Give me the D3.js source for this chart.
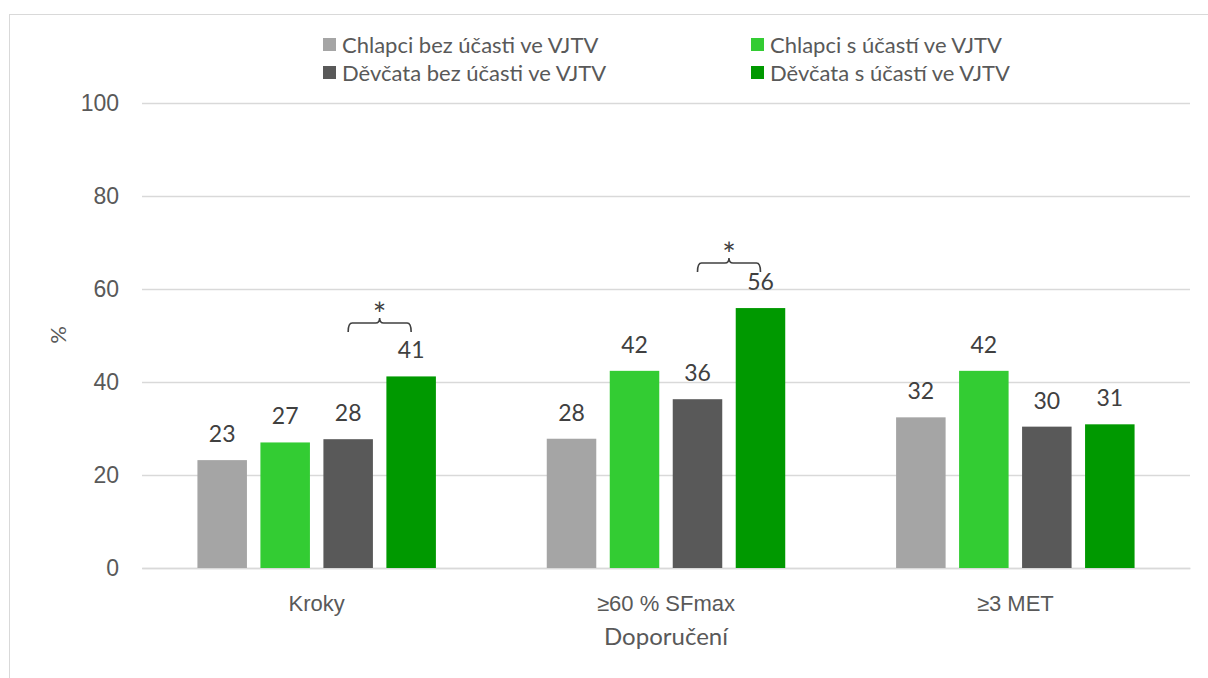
<!DOCTYPE html>
<html>
<head>
<meta charset="utf-8">
<script src="https://cdnjs.cloudflare.com/ajax/libs/d3/7.8.5/d3.min.js"></script>
<style>
    body { margin: 0; background: #fff; }
    svg { font-family: Lato, 'Noto Sans', sans-serif; }
</style>
</head>
<body>
<svg id="svg" width="1208" height="678"></svg>
<script>
const categories = ['Kroky', '≥60 % SFmax', '≥3 MET'];
const series = ['Chlapci bez účasti ve VJTV', 'Chlapci s účastí ve VJTV', 'Děvčata bez účasti ve VJTV', 'Děvčata s účastí ve VJTV'];
const chlapciBez = [23.2, 27.8, 32.4];
const chlapciS = [27.0, 42.4, 42.4];
const devcataBez = [27.7, 36.3, 30.4];
const devcataS = [41.2, 55.9, 30.9];
const yTicks = [0, 20, 40, 60, 80, 100];
// significance brackets (between the two girls' bars)
const sigCategories = ['Kroky', '≥60 % SFmax'];
const sigLevels = [52.7, 65.6];

const values = [chlapciBez, chlapciS, devcataBez, devcataS];
const colors = ['#A5A5A5', '#33CC33', '#595959', '#009900'];

const svg = d3.select('#svg');
const padding = {top: 103, right: 18, bottom: 110, left: 142};
const chartArea = {
    'width': 1208 - padding.left - padding.right,
    'height': 678 - padding.top - padding.bottom
};

// outer frame
svg.append('rect')
    .attr('x', 9.5).attr('y', 14.5)
    .attr('width', 1220).attr('height', 700)
    .attr('fill', 'none')
    .attr('stroke', '#D9D9D9');

const yScale = d3.scaleLinear().domain([0, 100]).range([chartArea.height, 0]);
const xScale = d3.scaleBand().domain(categories).range([0, chartArea.width]);
const x1 = d3.scaleBand()
            .domain(series)
            .range([0, xScale.bandwidth()])
            .paddingInner(0.214)
            .paddingOuter(0.88);

const g = svg.append('g')
            .attr('transform', 'translate(' + padding.left + ',' + padding.top + ')');

// gridlines + y axis labels
const yAxis = g.append('g')
            .call(d3.axisLeft(yScale).tickValues(yTicks).tickSize(-chartArea.width).tickPadding(23));
yAxis.select('.domain').remove();
yAxis.selectAll('line').attr('stroke', '#D9D9D9').attr('stroke-width', 1.3);
yAxis.selectAll('text')
    .attr('fill', '#595959')
    .style('font-size', '23px');

// x axis
const xAxis = g.append('g')
            .attr('transform', 'translate(0,' + chartArea.height + ')')
            .call(d3.axisBottom(xScale).tickSize(0).tickPadding(27));
xAxis.select('.domain').attr('stroke', '#D9D9D9').attr('stroke-width', 1.3);
xAxis.selectAll('text')
    .attr('fill', '#595959')
    .style('font-size', '22px');

// bars
const rows = [];
categories.forEach((c, i) => {
    series.forEach((s, j) => rows.push({cat: c, ser: s, val: values[j][i], idx: j}));
});

g.selectAll('rect.bar').data(rows)
    .enter()
    .append('rect')
    .attr('class', 'bar')
    .attr('x', d => xScale(d.cat) + x1(d.ser))
    .attr('y', d => yScale(d.val))
    .attr('width', x1.bandwidth())
    .attr('height', d => chartArea.height - yScale(d.val))
    .attr('fill', d => colors[d.idx]);

// value labels
g.selectAll('.text').data(rows)
    .enter()
    .append('text')
    .attr('class', 'text')
    .attr('x', d => xScale(d.cat) + x1(d.ser) + x1.bandwidth() / 2)
    .attr('y', d => yScale(d.val) - 18)
    .attr('text-anchor', 'middle')
    .attr('fill', '#404040')
    .style('font-size', '23px')
    .text(d => Math.round(d.val));

// significance brackets
sigCategories.forEach((c, i) => {
    const xa = xScale(c) + x1(series[2]) + x1.bandwidth() / 2;
    const xb = xScale(c) + x1(series[3]) + x1.bandwidth() / 2;
    const xm = (xa + xb) / 2;
    const y = yScale(sigLevels[i]);
    const p = d3.path();
    p.moveTo(xa, y + 9);
    p.quadraticCurveTo(xa, y, xa + 4, y);
    p.lineTo(xm - 4, y);
    p.quadraticCurveTo(xm, y, xm, y - 5);
    p.quadraticCurveTo(xm, y, xm + 4, y);
    p.lineTo(xb - 4, y);
    p.quadraticCurveTo(xb, y, xb, y + 9);
    g.append('path')
        .attr('d', p.toString())
        .attr('fill', 'none')
        .attr('stroke', '#404040')
        .attr('stroke-width', 1.6);
    g.append('text')
        .attr('x', xm)
        .attr('y', y + 3)
        .attr('text-anchor', 'middle')
        .attr('fill', '#404040')
        .style('font-size', '32px')
        .text('*');
});

// axis titles
svg.append('text')
    .attr('transform', 'translate(66,335) rotate(-90)')
    .attr('text-anchor', 'middle')
    .attr('fill', '#595959')
    .style('font-size', '22px')
    .text('%');

svg.append('text')
    .attr('x', padding.left + chartArea.width / 2)
    .attr('y', 645)
    .attr('text-anchor', 'middle')
    .attr('fill', '#595959')
    .style('font-size', '24px')
    .text('Doporučení');

// legend, two columns
const legendPos = [[323, 45], [751, 45], [323, 73], [751, 73]];
const legend = svg.append('g').selectAll('g').data(series)
    .enter()
    .append('g')
    .attr('transform', (d, i) => 'translate(' + legendPos[i][0] + ',' + legendPos[i][1] + ')');
legend.append('rect')
    .attr('y', -7)
    .attr('width', 13).attr('height', 13)
    .attr('fill', (d, i) => colors[i]);
legend.append('text')
    .attr('x', 19)
    .attr('y', 7.5)
    .attr('fill', '#595959')
    .style('font-size', '22px')
    .text(d => d);
</script>
</body>
</html>
